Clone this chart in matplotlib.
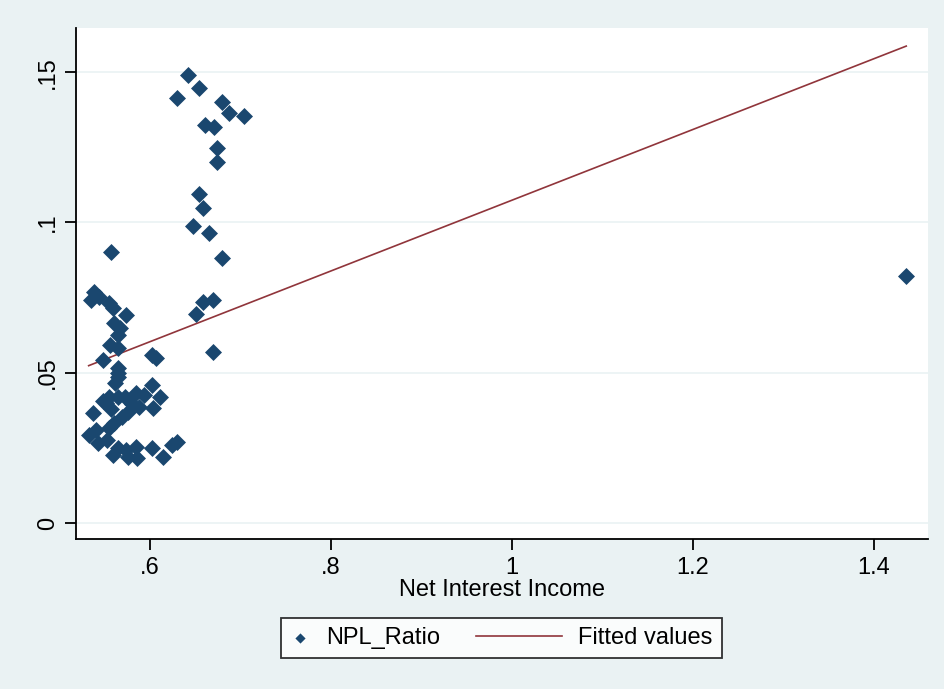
import numpy as np
import matplotlib
matplotlib.use("Agg")
import matplotlib.pyplot as plt
from matplotlib.lines import Line2D
from matplotlib.legend_handler import HandlerPathCollection, HandlerLine2D

# NPL ratio vs net interest income
nii = [0.642, 0.654, 0.630, 0.679, 0.687, 0.704, 0.661, 0.671, 0.674, 0.674,
       0.654, 0.658, 0.647, 0.665, 0.679, 0.557, 0.658, 0.669, 0.651, 0.669,
       0.538, 0.535, 0.543, 0.554, 0.559, 0.573, 0.560, 0.567, 0.565, 0.556,
       0.565, 0.548, 0.606, 0.602, 0.565, 0.565, 0.565, 0.561, 0.554, 0.551,
       0.565, 0.572, 0.584, 0.593, 0.602, 0.611, 0.603, 0.537, 0.588, 0.576,
       0.569, 0.560, 0.554, 0.540, 0.532, 0.542, 0.552, 0.565, 0.559, 0.573,
       0.584, 0.586, 0.576, 0.602, 0.614, 0.624, 0.630, 0.548, 0.557, 0.580,
       1.436]
npl = [0.149, 0.1447, 0.1414, 0.140, 0.1364, 0.1354, 0.1324, 0.1317, 0.1248, 0.120,
       0.1094, 0.1048, 0.0988, 0.0965, 0.0882, 0.0902, 0.0735, 0.0742, 0.0695, 0.0569,
       0.0768, 0.0742, 0.0752, 0.0732, 0.0715, 0.0692, 0.0665, 0.0649, 0.0625, 0.0592,
       0.0582, 0.0542, 0.0549, 0.0559, 0.0516, 0.0486, 0.0499, 0.0466, 0.0419, 0.0399,
       0.0419, 0.0419, 0.0432, 0.0426, 0.0459, 0.0419, 0.0383, 0.0366, 0.0386, 0.0369,
       0.0353, 0.0333, 0.0316, 0.0309, 0.0293, 0.0266, 0.0276, 0.0250, 0.0226, 0.0243,
       0.0253, 0.0216, 0.0220, 0.0250, 0.0220, 0.0259, 0.0269, 0.0405, 0.0380, 0.0395,
       0.0822]

fit_intercept = -0.0102
fit_slope = 0.1176

navy = "#1a476f"
maroon = "#90353b"
bg = "#eaf2f3"
fs = 17


# stata style legend: short box for the marker, long line for the fit
class CenterMarker(HandlerPathCollection):
    def get_xdata(self, legend, xdescent, ydescent, width, height, fontsize):
        x = [0.5 * width - xdescent]
        return x, x


class LongLine(HandlerLine2D):
    def create_artists(self, legend, orig_handle, xdescent, ydescent,
                       width, height, fontsize, trans):
        y = height / 2 - ydescent
        ln = Line2D([width - xdescent - 62, width - xdescent], [y, y])
        self.update_prop(ln, orig_handle, legend)
        ln.set_transform(trans)
        return [ln]


fig = plt.figure(figsize=(9.44, 6.89), dpi=100, facecolor=bg)
ax = fig.add_axes([0.0805, 0.2177, 0.9025, 0.7417])
ax.set_facecolor("white")

sc = ax.scatter(nii, npl, marker="D", s=75, color=navy, linewidths=0, zorder=3,
                label="NPL_Ratio")
xs = np.array([min(nii), max(nii)])
fl, = ax.plot(xs, fit_intercept + fit_slope * xs, color=maroon, lw=1.2, zorder=2,
              label="Fitted values")

ax.set_xlim(0.518, 1.460)
ax.set_ylim(-0.0053, 0.1647)
ax.set_xticks([0.6, 0.8, 1.0, 1.2, 1.4])
ax.set_xticklabels([".6", ".8", "1", "1.2", "1.4"])
ax.set_yticks([0, 0.05, 0.1, 0.15])
ax.set_yticklabels(["0", ".05", ".1", ".15"], rotation=90, va="center")
ax.grid(axis="y", color=bg, lw=1.2, zorder=0)
ax.set_axisbelow(True)

for s in ["top", "right"]:
    ax.spines[s].set_visible(False)
for s in ["left", "bottom"]:
    ax.spines[s].set_linewidth(1.3)
    ax.spines[s].set_color("black")
ax.tick_params(labelsize=fs, length=8, width=1.3)
ax.tick_params(axis="x", pad=5)
ax.tick_params(axis="y", pad=4)
for t in ax.get_xticklabels() + ax.get_yticklabels():
    t.set_family("Liberation Sans")

ax.set_xlabel("Net Interest Income", fontsize=fs, family="Liberation Sans",
              labelpad=0)

leg = fig.legend(loc="center", bbox_to_anchor=(0.531, 0.074), ncol=2,
                 prop={"family": "Liberation Sans", "size": fs},
                 frameon=True, fancybox=False, edgecolor="black",
                 markerscale=0.6, handlelength=0.85, handletextpad=0.68,
                 columnspacing=4.3, borderpad=0.4,
                 handler_map={sc: CenterMarker(), fl: LongLine()})
leg.get_frame().set_linewidth(1.3)

fig.savefig("out.png", dpi=100, facecolor=bg)
